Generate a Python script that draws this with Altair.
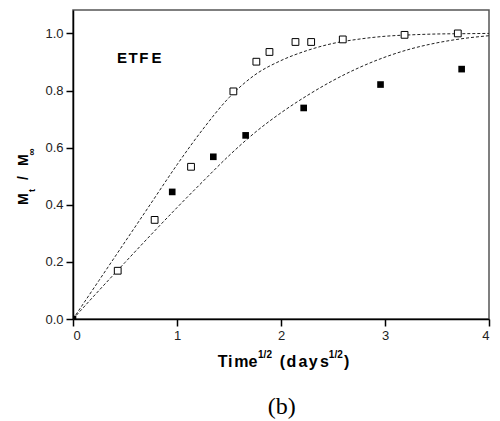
import altair as alt
import pandas as pd

# ---- data ----
open_x = [0.43, 0.785, 1.135, 1.542, 1.763, 1.889, 2.139, 2.29, 2.594, 3.188, 3.70]
open_y = [0.169, 0.347, 0.533, 0.797, 0.901, 0.935, 0.97, 0.97, 0.979, 0.995, 1.0]

filled_x = [0.0, 0.954, 1.349, 1.66, 2.218, 2.957, 3.737]
filled_y = [0.0, 0.445, 0.568, 0.643, 0.739, 0.821, 0.875]

curve_x = [0, 0.25, 0.5, 0.75, 1.0, 1.25, 1.5, 1.75, 2.0, 2.25, 2.5, 2.75, 3.0, 3.25, 3.5, 3.75, 4.0]
upper_y = [0, 0.135, 0.27, 0.405, 0.54, 0.665, 0.775, 0.855, 0.905, 0.94, 0.965, 0.98, 0.99, 0.995, 0.998, 0.999, 1.0]
lower_y = [0, 0.10, 0.198, 0.295, 0.39, 0.482, 0.572, 0.653, 0.722, 0.782, 0.835, 0.88, 0.917, 0.946, 0.967, 0.982, 0.992]

x_ticks = [0, 1, 2, 3, 4]
y_ticks = [0.0, 0.2, 0.4, 0.6, 0.8, 1.0]

# ---- tables ----
open_df = pd.DataFrame({"t": open_x, "m": open_y})
filled_df = pd.DataFrame({"t": filled_x, "m": filled_y})
curves_df = pd.concat([
    pd.DataFrame({"t": curve_x, "m": upper_y, "curve": "upper"}),
    pd.DataFrame({"t": curve_x, "m": lower_y, "curve": "lower"}),
])

FONT = "Liberation Sans"
xs = alt.Scale(domain=[0, 4], nice=False, zero=False)
ys = alt.Scale(domain=[0, 1.082], nice=False)

x_axis = alt.Axis(values=x_ticks, format="d", title=None, grid=False,
                  tickSize=7, labelPadding=3)
y_axis = alt.Axis(values=y_ticks, format=".1f", title=None, grid=False,
                  tickSize=7, labelPadding=3)

X = alt.X("t:Q", scale=xs, axis=x_axis)
Y = alt.Y("m:Q", scale=ys, axis=y_axis)

lines = alt.Chart(curves_df).mark_line(
    strokeDash=[3, 2], strokeWidth=1, color="#222", interpolate="monotone", clip=True
).encode(x=X, y=Y, detail="curve:N")

opens = alt.Chart(open_df).mark_square(
    size=46, fill="white", stroke="black", strokeWidth=1, opacity=1, clip=True
).encode(x=X, y=Y)

filled = alt.Chart(filled_df).mark_square(
    size=44, color="black", opacity=1, clip=True
).encode(x=X, y=Y)


def txt(s, x, y, size, bold=True, angle=0, align="center", font=FONT, baseline="alphabetic"):
    kw = dict(fontSize=size, font=font, align=align, baseline=baseline, color="black",
              fontWeight="bold" if bold else "normal")
    if angle:
        kw["angle"] = angle
    return alt.Chart(pd.DataFrame({"s": [s]})).mark_text(**kw).encode(
        x=alt.value(x), y=alt.value(y), text="s:N")


ann = []
# ETFE label
for ch, cx in zip("ETFE", [49, 60, 70.8, 83.5]):
    ann.append(txt(ch, cx, 53.3, 15))
# x title: Time^{1/2} (days^{1/2})
for ch, cx in zip(["T", "i", "m", "e", "(", "d", "a", "y", "s", ")"],
                  [149.7, 157.3, 168.3, 180, 209.5, 218.3, 230, 240.3, 251.5, 273.7]):
    ann.append(txt(ch, cx, 357, 16))
ann.append(txt("1/2", 192, 348, 10))
ann.append(txt("1/2", 262.8, 348, 10))
# y title: M_t / M_inf (rotated)
ann.append(txt("M", -45, 195, 14, angle=270, align="left"))
ann.append(txt("t", -38.5, 182, 9, angle=270, align="left"))
ann.append(txt("/", -45, 170, 14, angle=270, align="left"))
ann.append(txt("M", -45, 156, 14, angle=270, align="left"))
ann.append(txt("\u221e", -38, 145.5, 10, angle=270, align="left"))
# caption
ann.append(txt("(b)", 208.7, 404, 24, bold=False, font="Liberation Serif"))

chart = alt.layer(lines, opens, filled, *ann).properties(
    width=416, height=309,
    padding={"left": 65, "top": 2, "right": 3, "bottom": 102},
    autosize="none",
).configure_view(
    stroke="#555", strokeWidth=1.5
).configure_axis(
    domainColor="black", domainWidth=1.5, tickColor="black", tickWidth=1.5,
    labelFont=FONT, labelFontSize=13, labelColor="#222"
)

chart.save("out.html", embed_options={"renderer": "svg", "actions": False})
